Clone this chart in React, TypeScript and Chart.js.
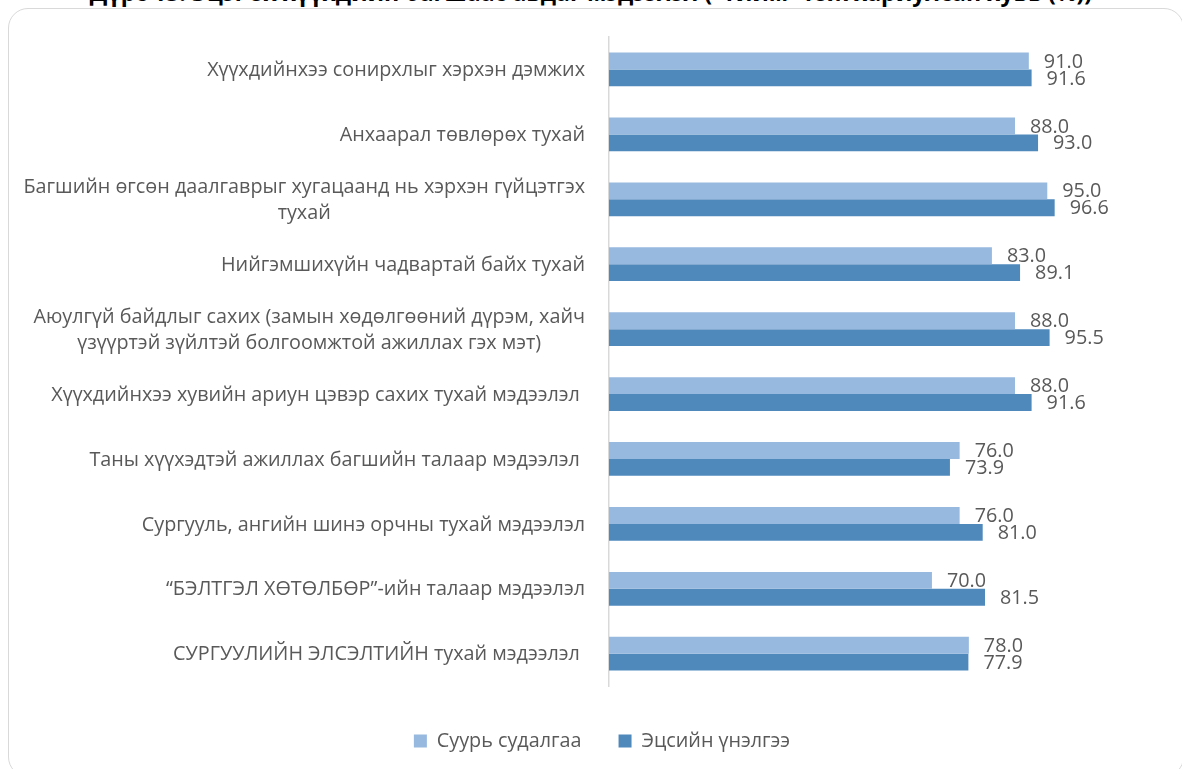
import React, { useEffect, useRef } from "react";
import { Chart, registerables } from "chart.js";

Chart.register(...registerables);

const TITLE = "Дүрс 13. Эцэг эх хүүхдийн багшаас авдаг мэдээлэл (\"тийм\" гэж хариулсан хувь (%))";

const CATEGORIES: (string | string[])[] = [
  "Хүүхдийнхээ сонирхлыг хэрхэн дэмжих",
  "Анхаарал төвлөрөх тухай",
  ["Багшийн өгсөн даалгаврыг хугацаанд нь хэрхэн гүйцэтгэх", "тухай"],
  "Нийгэмшихүйн чадвартай байх тухай",
  ["Аюулгүй байдлыг сахих (замын хөдөлгөөний дүрэм, хайч", "үзүүртэй зүйлтэй болгоомжтой ажиллах гэх мэт)"],
  "Хүүхдийнхээ хувийн ариун цэвэр сахих тухай мэдээлэл ",
  "Таны хүүхэдтэй ажиллах багшийн талаар мэдээлэл ",
  "Сургууль, ангийн шинэ орчны тухай мэдээлэл",
  "“БЭЛТГЭЛ ХӨТӨЛБӨР”-ийн талаар мэдээлэл",
  "СУРГУУЛИЙН ЭЛСЭЛТИЙН тухай мэдээлэл ",
];

const SERIES_NAMES = ["Суурь судалгаа", "Эцсийн үнэлгээ"];
const BASELINE = [91.0, 88.0, 95.0, 83.0, 88.0, 88.0, 76.0, 76.0, 70.0, 78.0];
const FINAL = [91.6, 93.0, 96.6, 89.1, 95.5, 91.6, 73.9, 81.0, 81.5, 77.9];

const LIGHT = "#97B9DF";
const DARK = "#4F89BC";
const TEXT = "#595959";
const FONT = '"Open Sans", "Noto Sans", sans-serif';
const FS = 19.8;
const LINE_H = 26;
const X_MAX = 124.2;

const labelPlugin = {
  id: "customLabels",
  afterDatasetsDraw(chart: any) {
    const ctx = chart.ctx as CanvasRenderingContext2D;
    ctx.save();
    ctx.font = `${FS}px ${FONT}`;
    ctx.fillStyle = TEXT;
    ctx.textBaseline = "middle";
    chart.data.datasets.forEach((ds: any, di: number) => {
      const meta = chart.getDatasetMeta(di);
      meta.data.forEach((bar: any, i: number) => {
        ctx.textAlign = "left";
        ctx.fillText(Number(ds.data[i]).toFixed(1), bar.x + 15, bar.y + 1);
      });
    });
    const yScale = chart.scales.y;
    const right = chart.chartArea.left - 24;
    (chart.data.labels as any[]).forEach((lab, i) => {
      const lines: string[] = Array.isArray(lab) ? lab : [lab];
      const cy = yScale.getPixelForValue(i);
      const maxW = Math.max(...lines.map((l) => ctx.measureText(l).width));
      const cx = right - maxW / 2;
      ctx.textAlign = "center";
      lines.forEach((l, k) => {
        ctx.fillText(l, cx, cy + (k - (lines.length - 1) / 2) * LINE_H + 1);
      });
    });
    ctx.restore();
  },
};

export default function App() {
  const ref = useRef<HTMLCanvasElement | null>(null);

  useEffect(() => {
    if (!ref.current) return;
    const chart = new Chart(ref.current, {
      type: "bar",
      data: {
        labels: CATEGORIES as any,
        datasets: [
          { label: SERIES_NAMES[0], data: BASELINE, backgroundColor: LIGHT, borderWidth: 0 },
          { label: SERIES_NAMES[1], data: FINAL, backgroundColor: DARK, borderWidth: 0 },
        ],
      },
      options: {
        indexAxis: "y",
        responsive: false,
        animation: false,
        categoryPercentage: 0.52,
        barPercentage: 1.0,
        layout: { padding: { left: 22, top: 37, right: 0, bottom: 8 } },
        scales: {
          x: { display: false, min: 0, max: X_MAX },
          y: {
            grid: { display: false },
            border: { display: true, color: "#d9d9d9", width: 1.5 },
            ticks: { display: false },
            afterFit(scale: any) {
              scale.width = 587;
            },
          },
        },
        plugins: {
          tooltip: { enabled: false },
          legend: {
            position: "bottom",
            title: { display: true, text: " ", font: { size: 2, lineHeight: 1 }, padding: { top: 0, bottom: 6 } },
            labels: {
              boxWidth: 13,
              boxHeight: 13,
              padding: 37,
              color: TEXT,
              font: { size: FS, family: FONT },
            },
          },
        },
      },
      plugins: [labelPlugin],
    });
    return () => chart.destroy();
  }, []);

  return (
    <div style={{ position: "fixed", left: 0, top: 0, width: 1182, height: 769, overflow: "hidden", background: "#fff" }}>
      <div
        style={{
          position: "absolute",
          left: 0,
          top: -19,
          width: 1182,
          textAlign: "center",
          whiteSpace: "nowrap",
          font: `bold 23px ${FONT}`,
          lineHeight: "23px",
          color: "#000",
        }}
      >
        {TITLE}
      </div>
      <div
        style={{
          position: "absolute",
          left: 8,
          top: 8,
          width: 1176,
          height: 769,
          boxSizing: "border-box",
          border: "1.5px solid #d9d9d9",
          borderRadius: 20,
        }}
      />
      <canvas ref={ref} width={1182} height={769} style={{ position: "absolute", left: 0, top: 0 }} />
    </div>
  );
}
